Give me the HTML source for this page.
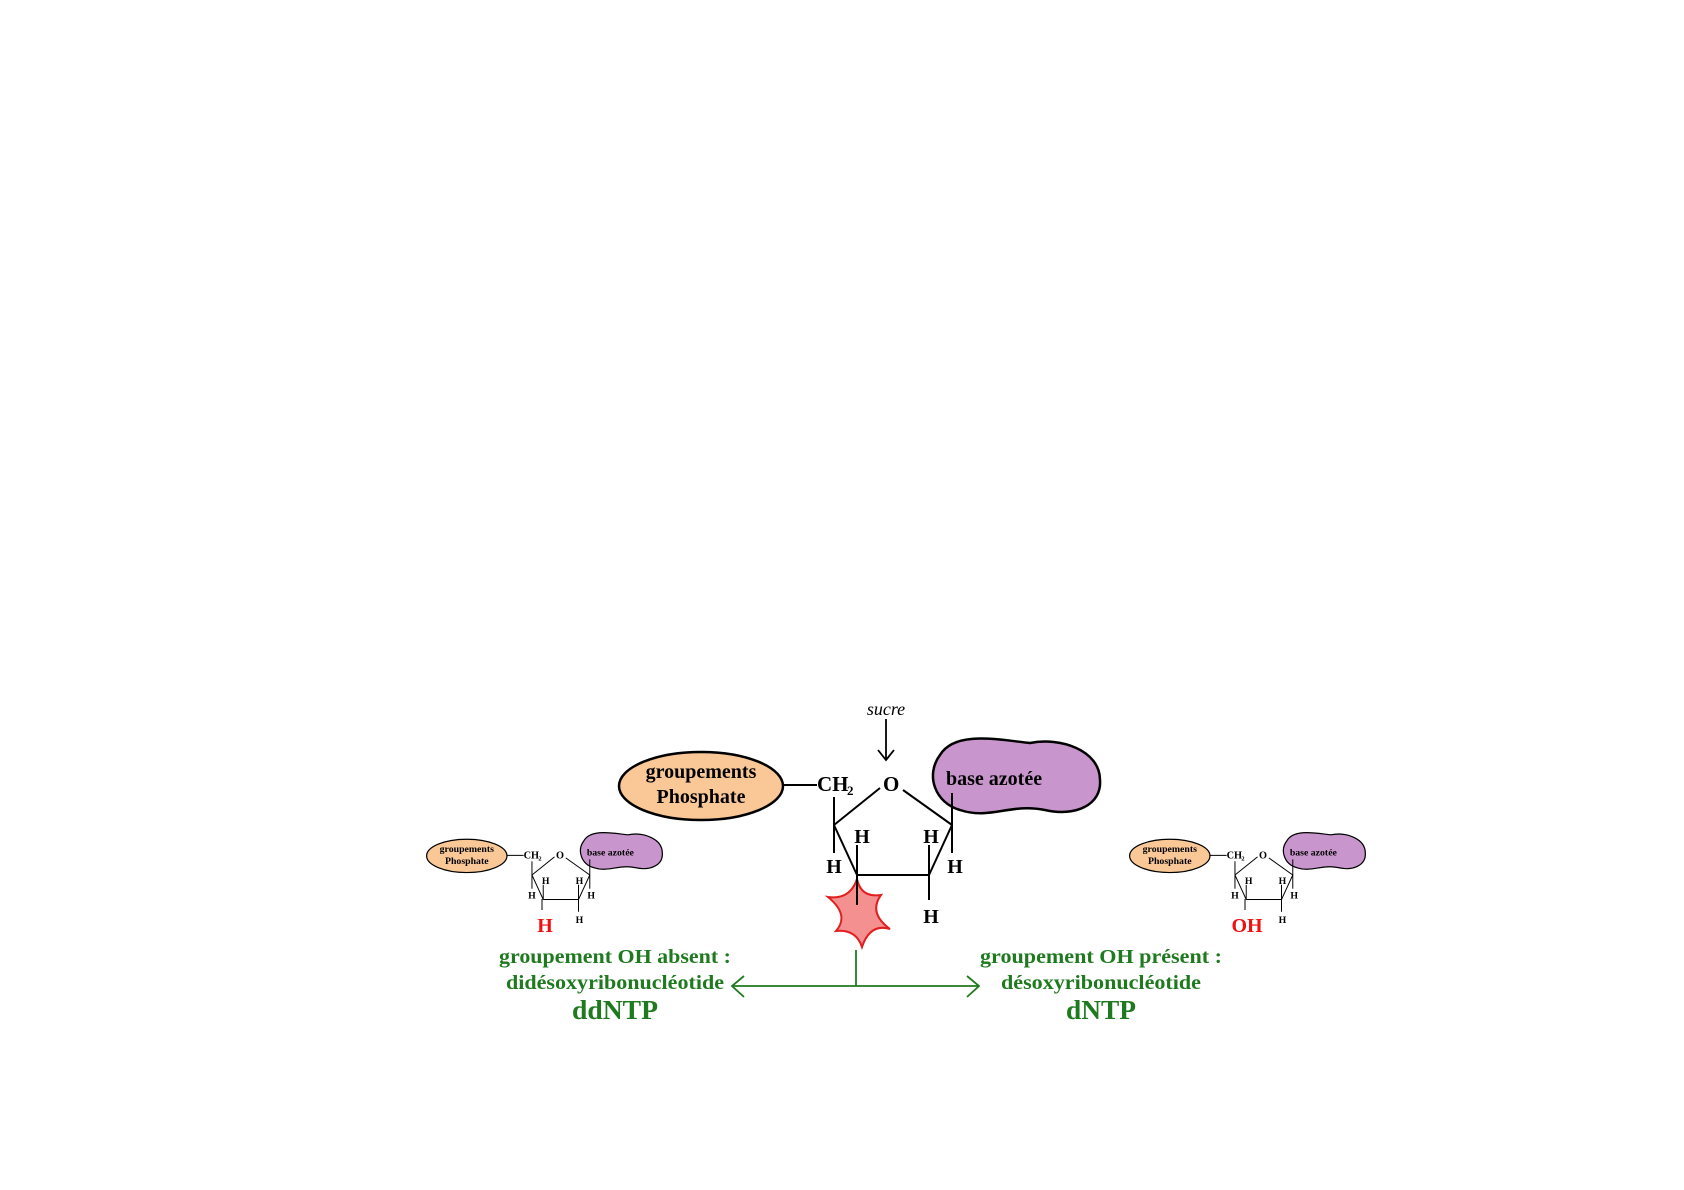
<!DOCTYPE html>
<html><head><meta charset="utf-8"><style>
html,body{margin:0;padding:0;background:#fff;}
svg{display:block;}
text{font-family:"Liberation Serif",serif;font-weight:bold;}
</style></head><body>
<svg width="1684" height="1190" viewBox="0 0 1684 1190" xmlns="http://www.w3.org/2000/svg">
<defs>
<g id="core">
  <ellipse cx="701" cy="791" rx="82" ry="34" fill="#f9c896" stroke="#000" stroke-width="2.5"/>
  <text x="701" y="783" font-size="20" text-anchor="middle">groupements</text>
  <text x="701" y="808" font-size="20" text-anchor="middle">Phosphate</text>
  <line x1="783" y1="790" x2="817" y2="790" stroke="#000" stroke-width="2"/>
  <path d="M940,760 C955,735 1000,745 1030,748 C1060,742 1100,755 1100,785 C1102,810 1075,822 1045,815 C1010,808 990,825 960,815 C935,808 925,780 940,760 Z" fill="#c896cc" stroke="#000" stroke-width="2.5"/>
  <text x="946" y="790" font-size="20">base azotée</text>
  <text x="817" y="796" font-size="21">CH</text>
  <text x="847" y="800" font-size="13">2</text>
  <text x="883" y="796" font-size="21">O</text>
  <g stroke="#000" stroke-width="2" fill="none">
    <line x1="834" y1="802" x2="834" y2="858"/>
    <line x1="834" y1="830" x2="880" y2="793"/>
    <line x1="903" y1="795" x2="952" y2="830"/>
    <line x1="952" y1="798" x2="952" y2="858"/>
    <line x1="834" y1="830" x2="857" y2="880"/>
    <line x1="952" y1="830" x2="929" y2="880"/>
    <line x1="857" y1="880" x2="929" y2="880"/>
    <line x1="857" y1="880" x2="857" y2="850"/>
    <line x1="929" y1="880" x2="929" y2="850"/>
    <line x1="929" y1="880" x2="929" y2="905"/>
  </g>
  <text x="834" y="878" font-size="20" text-anchor="middle">H</text>
  <text x="862" y="848" font-size="20" text-anchor="middle">H</text>
  <text x="931" y="848" font-size="20" text-anchor="middle">H</text>
  <text x="955" y="878" font-size="20" text-anchor="middle">H</text>
  <text x="931" y="928" font-size="20" text-anchor="middle">H</text>
</g>
</defs>
<g transform="translate(0,-5)">
<text x="886" y="720" font-size="18" font-style="italic" text-anchor="middle" style="font-weight:normal">sucre</text>
<line x1="886" y1="724" x2="886" y2="764" stroke="#000" stroke-width="1.8"/>
<polyline points="878,755 886,765 894,755" fill="none" stroke="#000" stroke-width="1.8"/>

<use href="#core"/>
<path d="M857,884 Q861,903 881,900 Q868,918 890,934 Q870,928 862,952 Q856,934 836,936 Q850,920 828,902 Q850,905 857,884 Z" fill="#f59090" stroke="#e02020" stroke-width="2"/>
<line x1="857" y1="880" x2="857" y2="910" stroke="#000" stroke-width="2"/>

<g transform="translate(123.3,473.3) scale(0.49)"><use href="#core"/></g>
<line x1="542" y1="904" x2="542" y2="915" stroke="#000" stroke-width="1"/>
<text x="545" y="937" font-size="20" fill="#ee1111" text-anchor="middle">H</text>

<g transform="translate(826.3,473.3) scale(0.49)"><use href="#core"/></g>
<line x1="1245" y1="904" x2="1245" y2="915" stroke="#000" stroke-width="1"/>
<text x="1247" y="937" font-size="20" fill="#ee1111" text-anchor="middle">OH</text>

<g fill="#1f7a1f">
<text x="615" y="968" font-size="20" text-anchor="middle" textLength="232" lengthAdjust="spacingAndGlyphs">groupement OH absent :</text>
<text x="615" y="994" font-size="20" text-anchor="middle" textLength="218" lengthAdjust="spacingAndGlyphs">didésoxyribonucléotide</text>
<text x="615" y="1024" font-size="27" text-anchor="middle" textLength="86" lengthAdjust="spacingAndGlyphs">ddNTP</text>
<text x="1101" y="968" font-size="20" text-anchor="middle" textLength="242" lengthAdjust="spacingAndGlyphs">groupement OH présent :</text>
<text x="1101" y="994" font-size="20" text-anchor="middle" textLength="200" lengthAdjust="spacingAndGlyphs">désoxyribonucléotide</text>
<text x="1101" y="1024" font-size="27" text-anchor="middle" textLength="70" lengthAdjust="spacingAndGlyphs">dNTP</text>
</g>
<g stroke="#1f7a1f" stroke-width="1.8" fill="none">
<line x1="856" y1="955" x2="856" y2="991"/>
<line x1="732" y1="991" x2="979" y2="991"/>
<polyline points="744,981 732,991 744,1002"/>
<polyline points="967,981 979,991 967,1002"/>
</g>
</g>
</svg>
</body></html>
